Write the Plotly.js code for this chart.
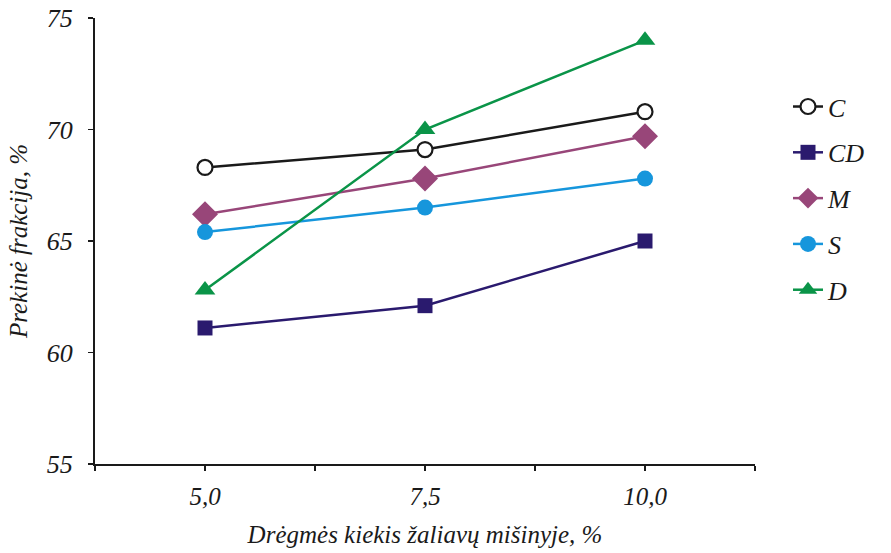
<!DOCTYPE html>
<html>
<head>
<meta charset="utf-8">
<script src="https://cdn.plot.ly/plotly-3.0.1.min.js"></script>
<style>html,body{margin:0;padding:0;background:#fff;}#chart{width:891px;height:553px;}</style>
</head>
<body>
<div id="chart"></div>
<script>
const moisture = [5.0, 7.5, 10.0];
const moistureLabels = ["5,0", "7,5", "10,0"];
const seriesNames = ["C", "CD", "M", "S", "D"];
const valuesC  = [68.3, 69.1, 70.8];
const valuesCD = [61.1, 62.1, 65.0];
const valuesM  = [66.2, 67.8, 69.7];
const valuesS  = [65.4, 66.5, 67.8];
const valuesD  = [62.8, 70.0, 74.0];
const yTicks = [55, 60, 65, 70, 75];

const styles = {
  C:  {color: '#1a1a1a', symbol: 'circle', size: 15, fill: '#ffffff', lw: 2.2},
  CD: {color: '#2a1a6e', symbol: 'square', size: 15, fill: '#2a1a6e', lw: 0},
  M:  {color: '#984679', symbol: 'diamond', size: 20, fill: '#984679', lw: 0},
  S:  {color: '#1696dc', symbol: 'circle', size: 16, fill: '#1696dc', lw: 0},
  D:  {color: '#0a9448', symbol: 'triangle-up', size: 18, fill: '#0a9448', lw: 0}
};
const allValues = {C: valuesC, CD: valuesCD, M: valuesM, S: valuesS, D: valuesD};

const font = {family: '"Liberation Serif", "Times New Roman", serif', color: '#1a1a1a'};

const traces = seriesNames.map(n => ({
  type: 'scatter', mode: 'lines+markers', name: '<i>' + n + '</i>',
  x: moisture, y: allValues[n], legendgroup: n,
  line: {color: styles[n].color, width: 2.5},
  marker: {symbol: styles[n].symbol, size: styles[n].size, color: styles[n].fill,
           line: {color: styles[n].color, width: styles[n].lw}},
  cliponaxis: false
}));

const layout = {
  width: 891, height: 553,
  margin: {l: 95, r: 136, t: 18, b: 89},
  paper_bgcolor: '#fff', plot_bgcolor: '#fff',
  showlegend: true,
  legend: {x: 1.05, xanchor: 'left', y: 0.854, yanchor: 'top',
           font: Object.assign({}, font, {size: 26}), tracegroupgap: 9,
           traceorder: 'grouped'},
  xaxis: {
    range: [3.75, 11.25], tickmode: 'array', tickvals: moisture,
    ticktext: moistureLabels.map(t => '<i>' + t + '</i>'),
    ticks: 'outside', ticklen: 5, tickwidth: 1.5, tickcolor: '#1a1a1a',
    minor: {tickmode: 'linear', tick0: 3.75, dtick: 1.25, ticks: 'outside', ticklen: 5, tickwidth: 1.5, tickcolor: '#1a1a1a'},
    showline: true, linecolor: '#1a1a1a', linewidth: 2, showgrid: false, zeroline: false,
    tickfont: Object.assign({}, font, {size: 25}), ticklabelstandoff: 4,
    title: {text: '<i>Drėgmės kiekis žaliavų mišinyje, %</i>', font: Object.assign({}, font, {size: 25}), standoff: 16}
  },
  yaxis: {
    range: [55, 75], tickmode: 'array', tickvals: yTicks,
    ticktext: yTicks.map(t => '<i>' + t + '</i>'),
    ticks: 'outside', ticklen: 5, tickwidth: 1.5, tickcolor: '#1a1a1a',
    showline: true, linecolor: '#1a1a1a', linewidth: 2, showgrid: false, zeroline: false,
    tickfont: Object.assign({}, font, {size: 26}), ticklabelstandoff: 10,
    title: {text: '<i>Prekinė frakcija, %</i>', font: Object.assign({}, font, {size: 25}), standoff: 12}
  }
};

Plotly.newPlot('chart', traces, layout, {displayModeBar: false, staticPlot: true});
</script>
</body>
</html>
